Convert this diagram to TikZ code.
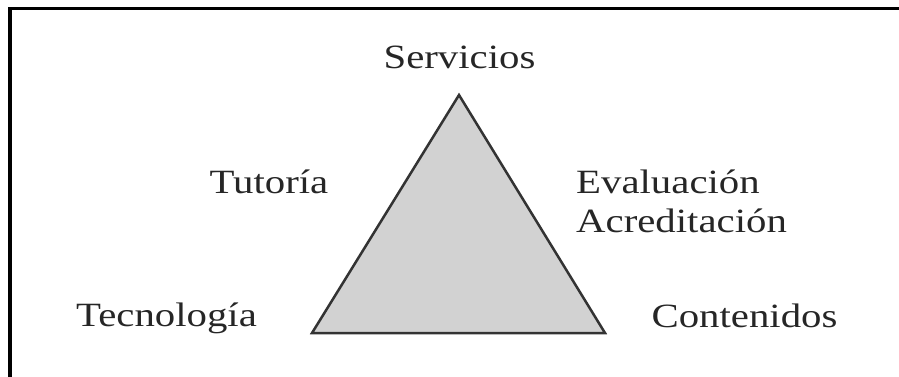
\documentclass[tikz,border=0pt]{standalone}
\usepackage{fontspec}
\setmainfont{Liberation Serif}[FakeStretch=1.2]
\begin{document}
\begin{tikzpicture}[x=1pt,y=-1pt,
  lbl/.style={inner sep=0pt,font=\fontsize{34}{40}\selectfont,text=black!85},
  tri/.style={draw=black!80,line width=2.5pt,fill=gray!35!white,line join=miter}]
\useasboundingbox (0,0) rectangle (899,376);
% partial frame
\draw[line width=3.6pt] (10,400) -- (10,8.5) -- (920,8.5);
% triangle corners
\coordinate (top) at (459,95);
\coordinate (bl) at (312,333);
\coordinate (br) at (605,333);
\draw[tri] (top) -- (br) -- (bl) -- cycle;
% labels
\node[lbl,anchor=base] (serv) at (459.5,68) {Servicios};
\node[lbl,anchor=base] (tut) at (269,193) {Tutoría};
\node[lbl,anchor=base west] (eval) at (576,193) {Evaluación};
\node[lbl,anchor=base west] (acred) at (576,232) {Acreditación};
\node[lbl,anchor=base] (tec) at (166.5,326) {Tecnología};
\node[lbl,anchor=base] (cont) at (744.5,327) {Contenidos};
\end{tikzpicture}
\end{document}
